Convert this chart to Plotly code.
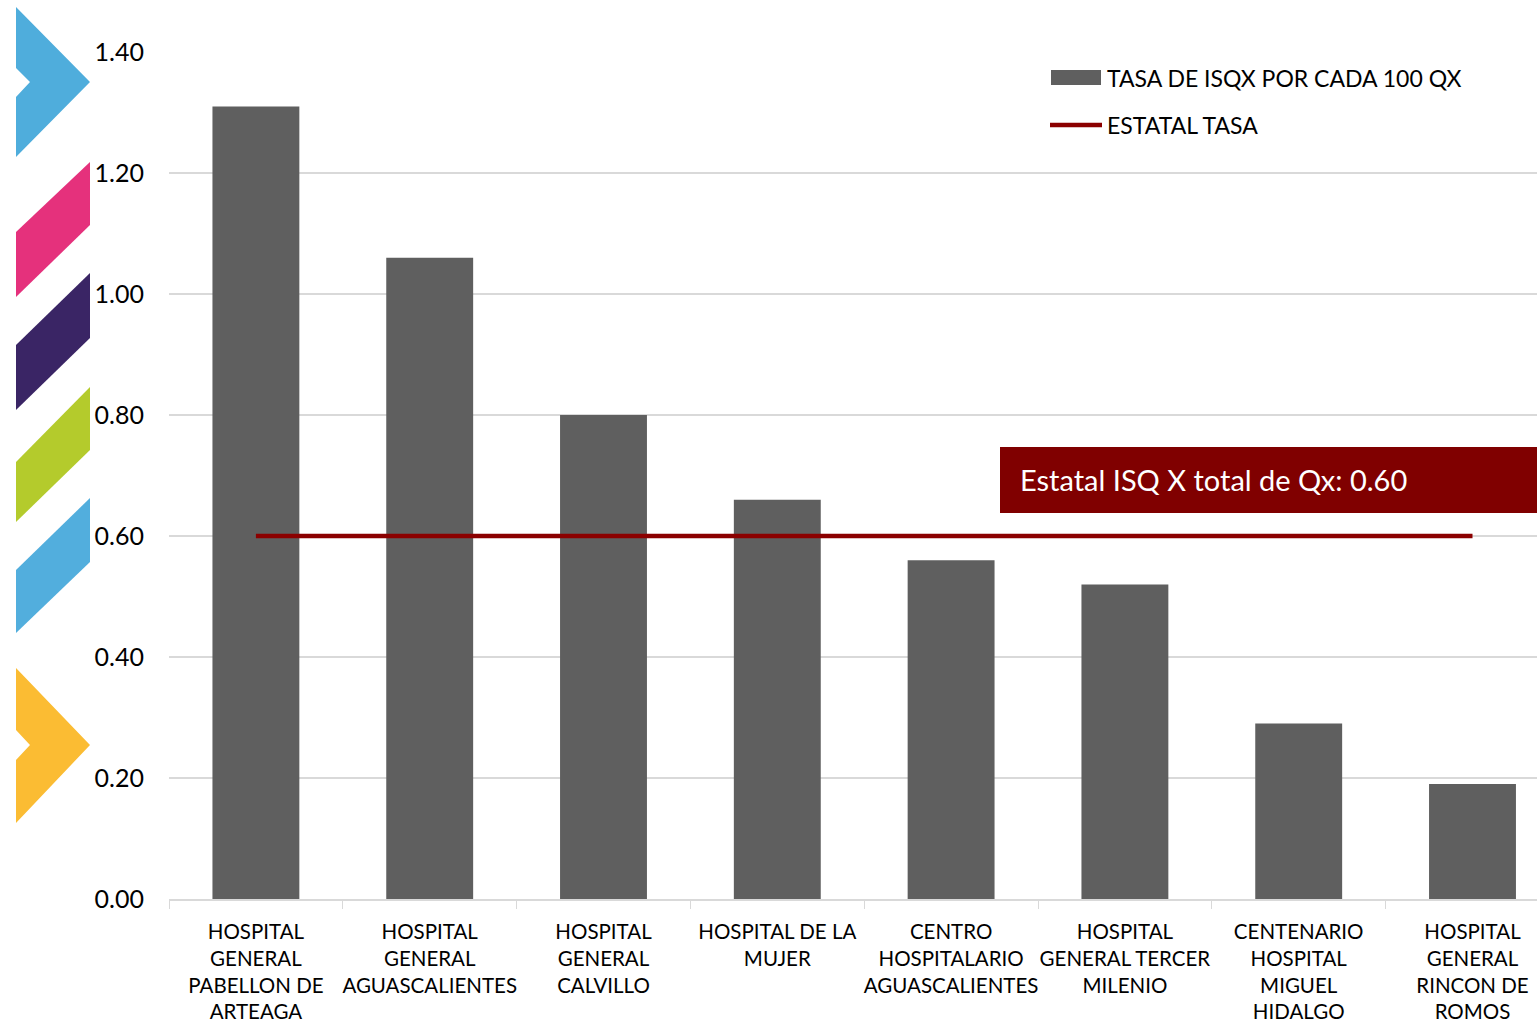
import plotly.graph_objects as go

categories = [
    "HOSPITAL<br>GENERAL<br>PABELLON DE<br>ARTEAGA",
    "HOSPITAL<br>GENERAL<br>AGUASCALIENTES",
    "HOSPITAL<br>GENERAL<br>CALVILLO",
    "HOSPITAL DE LA<br>MUJER",
    "CENTRO<br>HOSPITALARIO<br>AGUASCALIENTES",
    "HOSPITAL<br>GENERAL TERCER<br>MILENIO",
    "CENTENARIO<br>HOSPITAL<br>MIGUEL<br>HIDALGO",
    "HOSPITAL<br>GENERAL<br>RINCON DE<br>ROMOS",
]
tasa_isqx = [1.31, 1.06, 0.80, 0.66, 0.56, 0.52, 0.29, 0.19]
estatal_tasa = 0.60
y_ticks = [0.0, 0.2, 0.4, 0.6, 0.8, 1.0, 1.2, 1.4]
bar_name = "TASA DE ISQX POR CADA 100 QX"
line_name = "ESTATAL TASA"
box_text = "Estatal ISQ X total de Qx: 0.60"

W, H = 1537, 1030
L, R, T, B = 169, 0, 52, 131
PW = W - L - R
PH = H - T - B
FONT = "Lato"


def px(x):
    return (x - L) / PW


def py(y):
    return (H - B - y) / PH


def poly(points):
    return "M " + " L ".join(f"{px(x):.5f},{py(y):.5f}" for x, y in points) + " Z"


fig = go.Figure()
fig.add_trace(go.Bar(
    x=categories, y=tasa_isqx, name=bar_name,
    marker=dict(color="#5F5F5F", line=dict(width=0)), width=0.5,
    showlegend=False,
))
fig.add_trace(go.Scatter(
    x=categories, y=[estatal_tasa] * len(categories),
    name=line_name, mode="lines",
    line=dict(color="#8B0000", width=4.5), showlegend=False,
))

shapes = []
deco = [
    ("#4FADDC", [(16, 7), (90, 82), (16, 157), (16, 97), (30, 82), (16, 68)]),
    ("#E5317C", [(16, 232), (90, 162), (90, 225), (16, 297)]),
    ("#3A2565", [(16, 345), (90, 273), (90, 338), (16, 410)]),
    ("#B4CB2C", [(16, 462), (90, 387), (90, 450), (16, 522)]),
    ("#52AEDD", [(16, 570), (90, 498), (90, 562), (16, 633)]),
    ("#FBBC33", [(16, 668), (90, 745), (16, 823), (16, 760), (30, 745), (16, 730)]),
]
for color, pts in deco:
    shapes.append(dict(type="path", xref="paper", yref="paper", path=poly(pts),
                       fillcolor=color, line=dict(width=0), layer="above"))

shapes.append(dict(type="rect", xref="paper", yref="paper",
                   x0=px(1000), x1=px(1537), y0=py(513), y1=py(447),
                   fillcolor="#800000", line=dict(width=0), layer="above"))
shapes.append(dict(type="rect", xref="paper", yref="paper",
                   x0=px(1051), x1=px(1101), y0=py(85), y1=py(70),
                   fillcolor="#5F5F5F", line=dict(width=0)))
shapes.append(dict(type="line", xref="paper", yref="paper",
                   x0=px(1050), x1=px(1102), y0=py(125), y1=py(125),
                   line=dict(color="#8B0000", width=4.5)))

annotations = [
    dict(text=box_text, xref="paper", yref="paper", x=px(1018), y=py(479),
         xanchor="left", yanchor="middle", showarrow=False,
         font=dict(family=FONT, size=29, color="white")),
    dict(text=bar_name, xref="paper", yref="paper", x=px(1105), y=py(78),
         xanchor="left", yanchor="middle", showarrow=False,
         font=dict(family=FONT, size=23, color="#000000")),
    dict(text=line_name, xref="paper", yref="paper", x=px(1105), y=py(125),
         xanchor="left", yanchor="middle", showarrow=False,
         font=dict(family=FONT, size=23, color="#000000")),
]

fig.update_layout(
    width=W, height=H,
    margin=dict(l=L, r=R, t=T, b=B, pad=0),
    paper_bgcolor="white", plot_bgcolor="white",
    font=dict(family=FONT, color="#000000"),
    shapes=shapes, annotations=annotations,
    xaxis=dict(
        type="category",
        range=[-0.5, -0.5 + PW / 173.8],
        tickangle=0, tickfont=dict(family=FONT, size=20.5, color="#000000"),
        showgrid=False, showline=True, linecolor="#D9D9D9", linewidth=1.5,
        ticks="outside", tickson="boundaries", ticklen=8, tickcolor="#D9D9D9",
        zeroline=False, ticklabelstandoff=14,
    ),
    yaxis=dict(
        range=[0, 1.4], tickmode="array", tickvals=y_ticks,
        ticktext=[f"{v:.2f}" for v in y_ticks],
        tickfont=dict(family=FONT, size=25, color="#000000"),
        showgrid=True, gridcolor="#D9D9D9", gridwidth=1.5,
        zeroline=False, showline=False, ticks="", ticklabelstandoff=24,
    ),
)

fig.write_html("out.html", config={"displayModeBar": False},
               post_script="document.body.style.margin='0';document.body.style.overflow='hidden';")
